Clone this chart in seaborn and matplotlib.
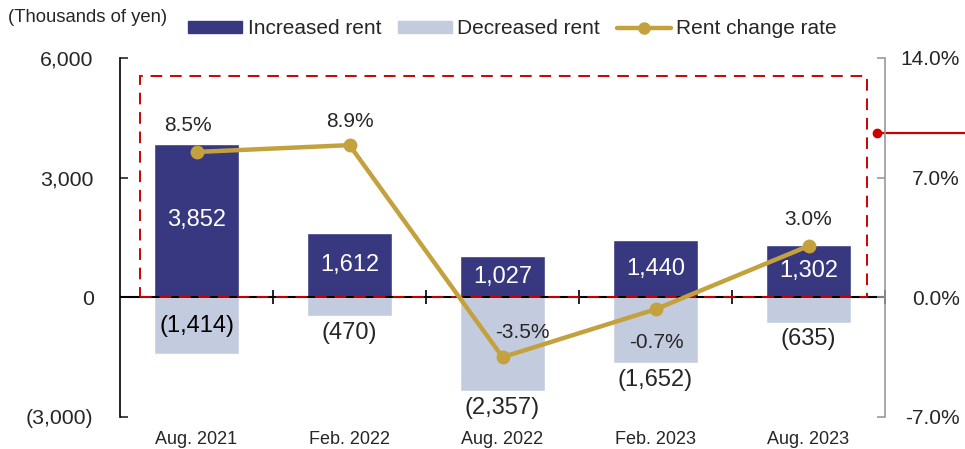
import numpy as np
import matplotlib
matplotlib.use("Agg")
import matplotlib.pyplot as plt
import matplotlib.patches as mpatches
from matplotlib.lines import Line2D
from matplotlib.ticker import FuncFormatter
import seaborn as sns

# Data ........................................................................

months = ["Aug. 2021", "Feb. 2022", "Aug. 2022", "Feb. 2023", "Aug. 2023"]
increased = [3852, 1612, 1027, 1440, 1302]
decreased = [-1414, -470, -2357, -1652, -635]
rate = [8.5, 8.9, -3.5, -0.7, 3.0]

# label placement for the decreased values and the rate labels (offsets in points)
dec_pos = ["inside", "below", "below", "below", "below"]
rate_offsets = [(-6, 19), (0, 17), (14, 18), (1, -24), (0, 19)]

# Style .......................................................................

sns.set_style("white")
plt.rcParams["font.family"] = ["Liberation Sans", "DejaVu Sans"]

navy = "#383880"
light = "#c3cbdf"
gold = "#c3a23e"
red = "#cc0000"

fig = plt.figure(figsize = (9.65, 4.49), dpi = 100)
ax = fig.add_axes([0.1244, 0.0713, 0.7927, 0.7997])
ax2 = ax.twinx()

# Bars ........................................................................

sns.barplot(x = months, y = increased, color = navy, saturation = 1, width = 0.55, ax = ax)
sns.barplot(x = months, y = decreased, color = light, saturation = 1, width = 0.55, ax = ax)

ax.set_xlim(-0.5, 4.5)
ax.set_ylim(-3000, 6000)
ax.set_yticks([-3000, 0, 3000, 6000])
ax.yaxis.set_major_formatter(FuncFormatter(lambda v, p: f"({abs(v):,.0f})" if v < 0 else f"{v:,.0f}"))
ax.set_xlabel("")
ax.set_ylabel("")

for s in ["top", "right", "bottom"]:
    ax.spines[s].set_visible(False)
ax.spines["left"].set_color("black")
ax.spines["left"].set_linewidth(1.2)
ax.tick_params(axis = "y", direction = "in", length = 6, width = 1.2, pad = 19, labelsize = 15.3)
ax.tick_params(axis = "x", length = 0, pad = 10, labelsize = 13)

# zero line with category separators
ax.axhline(0, color = "black", linewidth = 1.5, zorder = 3)
ax.plot(np.arange(len(months)) + 0.5, [0] * len(months), linestyle = "none",
        marker = "|", markersize = 10, markeredgewidth = 1.2, color = "black", zorder = 3, clip_on = False)

# bar labels
for i, v in enumerate(increased):
    ax.text(i, v / 2, f"{v:,}", ha = "center", va = "center", color = "white", fontsize = 17, zorder = 5)
for i, v in enumerate(decreased):
    if dec_pos[i] == "inside":
        ax.text(i, v / 2, f"({abs(v):,})", ha = "center", va = "center", color = "black", fontsize = 17, zorder = 5)
    else:
        ax.annotate(f"({abs(v):,})", (i, v), xytext = (0, -12), textcoords = "offset points",
                    ha = "center", va = "center", fontsize = 17, zorder = 5)

# highlight box and callout
ax.add_patch(mpatches.Rectangle((-0.37, 0), 4.75, 5550, fill = False, edgecolor = red,
                                linewidth = 1.4, linestyle = (0, (6, 4)), zorder = 4))
ax.plot([4.45, 5.05], [4117, 4117], color = red, linewidth = 1.6, clip_on = False, zorder = 6)
ax.plot([4.45], [4117], marker = "o", markersize = 6, color = red, clip_on = False, zorder = 6)

# Rate line ...................................................................

sns.lineplot(x = np.arange(len(months)), y = rate, color = gold, linewidth = 3.2,
             marker = "o", markersize = 10, markeredgewidth = 0, ax = ax2, zorder = 7)
ax2.set_ylim(-7, 14)
ax2.set_yticks([-7, 0, 7, 14])
ax2.yaxis.set_major_formatter(FuncFormatter(lambda v, p: f"{v:.1f}%"))
for s in ["top", "left", "bottom"]:
    ax2.spines[s].set_visible(False)
ax2.spines["right"].set_color("#999999")
ax2.spines["right"].set_linewidth(1.2)
ax2.tick_params(axis = "y", direction = "in", length = 6, width = 1.2, color = "#999999", pad = 54, labelsize = 15)
for lab in ax2.get_yticklabels():
    lab.set_horizontalalignment("right")

for i, r in enumerate(rate):
    ax2.annotate(f"{r:.1f}%", (i, r), xytext = rate_offsets[i], textcoords = "offset points",
                 ha = "center", va = "center", fontsize = 15, zorder = 8)

# Titles and legend ...........................................................

fig.text(0.008, 0.96, "(Thousands of yen)", fontsize = 13.3, ha = "left", va = "center")

handles = [mpatches.Patch(color = navy, label = "Increased rent"),
           mpatches.Patch(color = light, label = "Decreased rent"),
           Line2D([0], [0], color = gold, linewidth = 3.2, marker = "o", markersize = 8, label = "Rent change rate")]
fig.legend(handles = handles, loc = "center", bbox_to_anchor = (0.531, 0.936), ncol = 3, frameon = False,
           fontsize = 15, handlelength = 2.6, handleheight = 0.5, columnspacing = 0.8, handletextpad = 0.25)

fig.savefig("out.png", dpi = 100)
